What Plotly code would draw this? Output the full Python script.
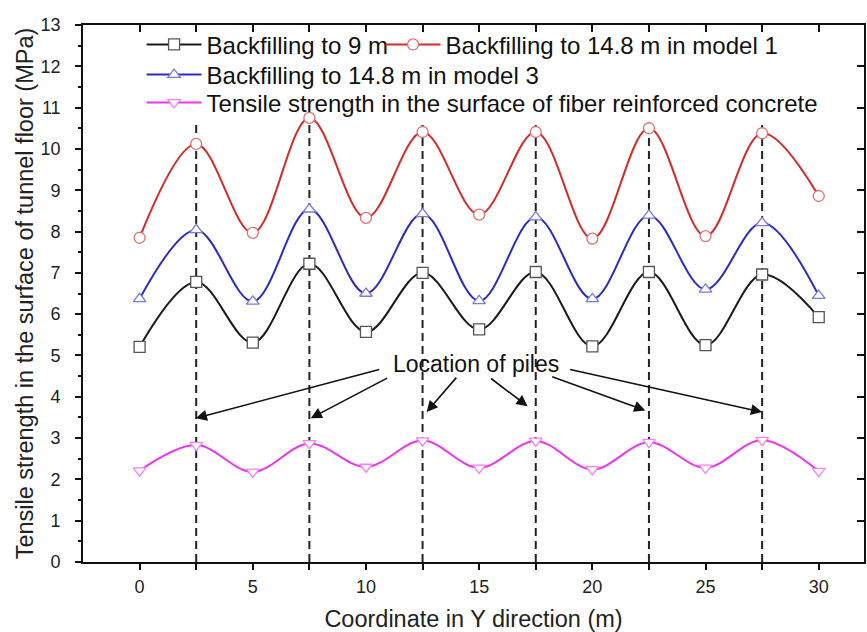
import plotly.graph_objects as go

x = [0, 2.5, 5, 7.5, 10, 12.5, 15, 17.5, 20, 22.5, 25, 27.5, 30]
backfill_9m = [5.21, 6.78, 5.31, 7.22, 5.57, 7.0, 5.63, 7.02, 5.22, 7.02, 5.25, 6.96, 5.93]
backfill_148_m1 = [7.85, 10.12, 7.97, 10.75, 8.33, 10.41, 8.41, 10.41, 7.83, 10.5, 7.89, 10.38, 8.86]
backfill_148_m3 = [6.37, 8.04, 6.31, 8.54, 6.5, 8.43, 6.32, 8.35, 6.37, 8.39, 6.6, 8.21, 6.45]
tensile_frc = [2.21, 2.83, 2.18, 2.87, 2.3, 2.94, 2.28, 2.93, 2.24, 2.9, 2.28, 2.95, 2.2]

pile_x = [2.5, 7.5, 12.5, 17.5, 22.5, 27.5]
pile_top = 10.6

names = ["Backfilling to 9 m", "Backfilling to 14.8 m in model 1",
         "Backfilling to 14.8 m in model 3",
         "Tensile strength in the surface of fiber reinforced concrete"]

# annotation arrows: (head x, head y, tail x, tail y)
arrow_heads_x = [2.48, 7.56, 12.68, 17.14, 22.34, 27.5]
arrow_heads_y = [3.48, 3.48, 3.63, 3.77, 3.67, 3.63]
arrow_tails_x = [10.65, 11.0, 14.05, 15.46, 18.16, 18.95]
arrow_tails_y = [4.67, 4.47, 4.50, 4.47, 4.50, 4.67]
label_text = "Location of piles"
label_x, label_y = 14.84, 4.79

FONT = "Arial, Liberation Sans, sans-serif"

fig = go.Figure()

# pile dashed lines
for px in pile_x:
    fig.add_trace(go.Scatter(x=[px, px], y=[0, pile_top], mode="lines",
                             line=dict(color="#222222", width=2, dash="8px,5px"),
                             showlegend=False, hoverinfo="skip"))

series = [
    (backfill_9m, names[0], "#1a1a1a", "#555555", "square", "legend"),
    (backfill_148_m1, names[1], "#d42a2a", "#e27070", "circle", "legend4"),
    (backfill_148_m3, names[2], "#2a2ac8", "#7a7ae0", "triangle-up", "legend2"),
    (tensile_frc, names[3], "#ee33ee", "#f480f4", "triangle-down", "legend3"),
]
for ys, nm, lc, mc, sym, lg in series:
    fig.add_trace(go.Scatter(
        x=x, y=ys, name=nm, mode="lines+markers",
        line=dict(color=lc, width=2, shape="spline", smoothing=1.0),
        marker=dict(symbol=sym, size=11, color="white",
                    line=dict(color=mc, width=1.3)),
        legend=lg))

fig.add_annotation(x=label_x, y=label_y, text=label_text, showarrow=False,
                   font=dict(family=FONT, size=23, color="#111111"))
for hx, hy, tx, ty in zip(arrow_heads_x, arrow_heads_y, arrow_tails_x, arrow_tails_y):
    fig.add_annotation(x=hx, y=hy, ax=tx, ay=ty, axref="x", ayref="y",
                       xref="x", yref="y", text="", showarrow=True,
                       arrowhead=2, arrowsize=1.4, arrowwidth=1.6,
                       arrowcolor="#111111")

axis_common = dict(showgrid=False, zeroline=False, linecolor="#111111",
                   linewidth=1.6, tickcolor="#111111", tickwidth=1.5)

leg_font = dict(size=24, color="#111111")
leg_common = dict(xanchor="left", yanchor="middle", orientation="h",
                  font=leg_font, bgcolor="rgba(0,0,0,0)", itemwidth=55)

fig.update_layout(
    width=867, height=632,
    margin=dict(l=83, r=3, t=25, b=70),
    plot_bgcolor="white", paper_bgcolor="white",
    font=dict(family=FONT, size=18, color="#222222"),
    xaxis=dict(range=[-2.5, 32], tickvals=[0, 5, 10, 15, 20, 25, 30],
               ticks="outside", ticklen=6, ticklabelstandoff=2,
               minor=dict(tickvals=[2.5, 7.5, 12.5, 17.5, 22.5, 27.5],
                          ticks="outside", ticklen=6, tickcolor="#111111", tickwidth=1.5),
               title=dict(text="Coordinate in Y direction (m)",
                          font=dict(size=23.5, color="#222222"), standoff=15),
               tickfont=dict(size=18), **axis_common),
    yaxis=dict(range=[0, 13], dtick=1, ticks="outside", ticklen=6, ticklabelstandoff=11,
               minor=dict(dtick=0.5, ticks="outside", ticklen=3, tickcolor="#111111", tickwidth=1.5),
               title=dict(text="Tensile strength in the surface of tunnel floor (MPa)",
                          font=dict(size=23.5, color="#222222"), standoff=0),
               tickfont=dict(size=18), **axis_common),
    xaxis2=dict(range=[-2.5, 32], overlaying="x", side="top", dtick=2.5, tick0=0,
                ticks="inside", ticklen=7, showticklabels=False, showline=True,
                **axis_common),
    yaxis2=dict(range=[0, 13], overlaying="y", side="right", dtick=1,
                ticks="inside", ticklen=7, showticklabels=False, showline=True,
                **axis_common),
    legend=dict(x=0.075, y=0.963, **leg_common),
    legend4=dict(x=0.381, y=0.963, **leg_common),
    legend2=dict(x=0.075, y=0.907, **leg_common),
    legend3=dict(x=0.075, y=0.855, **leg_common),
)
# dummy traces to activate secondary axes
fig.add_trace(go.Scatter(x=[None], y=[None], xaxis="x2", yaxis="y2",
                         showlegend=False, hoverinfo="skip"))

fig.write_html("out.html")
